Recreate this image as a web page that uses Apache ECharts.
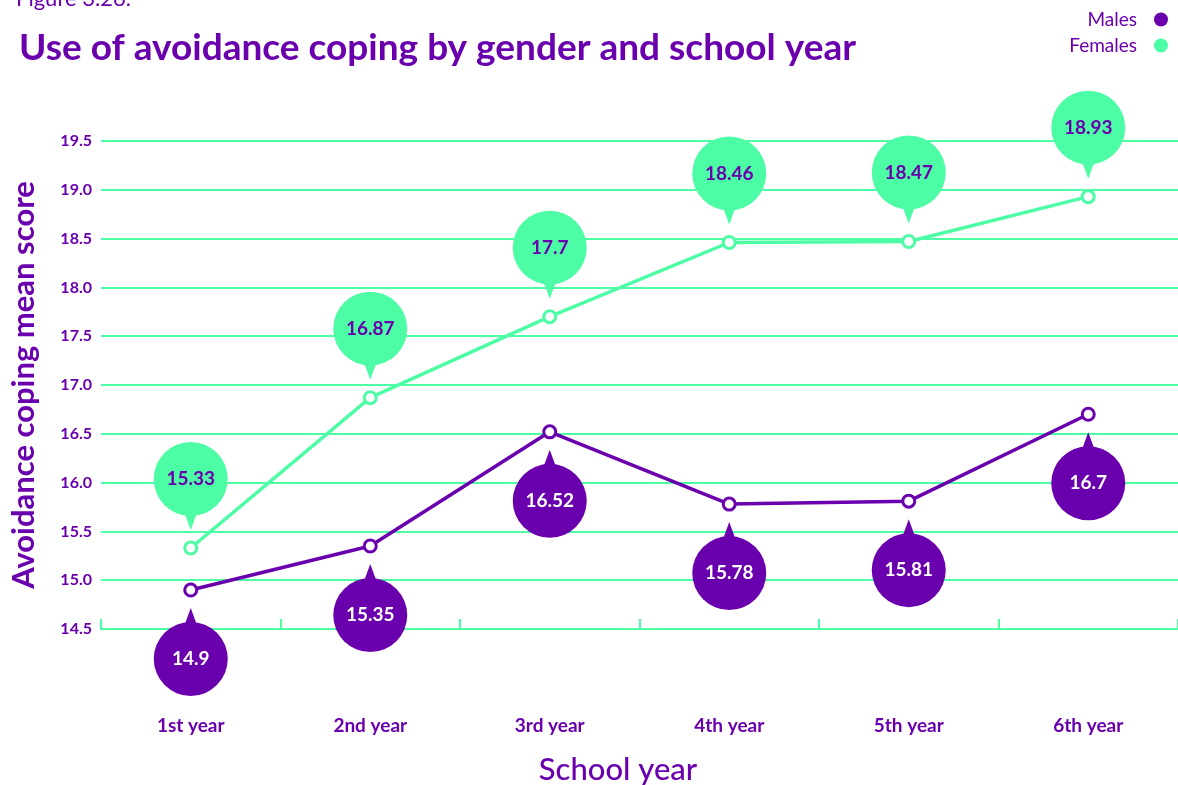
<!DOCTYPE html>
<html>
<head>
<meta charset="utf-8">
<script src="https://cdn.jsdelivr.net/npm/echarts@6/dist/echarts.min.js"></script>
<style>
  html, body { margin: 0; padding: 0; background: #fff; }
  #chart { width: 1178px; height: 785px; }
</style>
</head>
<body>
<div id="chart"></div>
<script>
// data
const years = ["1st year", "2nd year", "3rd year", "4th year", "5th year", "6th year"];
const males = [14.9, 15.35, 16.52, 15.78, 15.81, 16.7];
const females = [15.33, 16.87, 17.7, 18.46, 18.47, 18.93];

const purple = "#6a00ad";
const mint = "#4dfda6";
const font = "Lato, 'Noto Sans', sans-serif";

// bubble with a small pointer, above (dir=-1) or below (dir=1) the point
const bubble = (dir, fill, textColor) => (params, api) => {
  const p = api.coord([api.value(0), api.value(1)]);
  const cy = p[1] + dir * 69;
  const tip = p[1] + dir * 18;
  const base = p[1] + dir * 40;
  return {
    type: "group",
    children: [
      {
        type: "polygon",
        shape: { points: [[p[0] - 8, base], [p[0] + 8, base], [p[0], tip]] },
        style: { fill: fill },
      },
      {
        type: "circle",
        shape: { cx: p[0], cy: cy, r: 37 },
        style: { fill: fill },
      },
      {
        type: "text",
        style: {
          text: String(api.value(1)),
          x: p[0],
          y: cy,
          align: "center",
          verticalAlign: "middle",
          fill: textColor,
          font: "bold 19px " + font,
        },
      },
    ],
  };
};

const chart = echarts.init(document.getElementById("chart"));
const option = {
  animation: false,
  textStyle: { fontFamily: font },
  title: {
    text: "Use of avoidance coping by gender and school year",
    left: 14,
    top: 25,
    textStyle: { color: purple, fontSize: 37, fontWeight: "bold", fontFamily: font },
  },
  graphic: [
    {
      type: "text",
      left: 16,
      top: -12,
      style: { text: "Figure 3.26.", fill: purple, font: "22px " + font },
    },
    {
      type: "text",
      x: 618,
      y: 770,
      style: {
        text: "School year",
        fill: purple,
        font: "500 31px " + font,
        align: "center",
        verticalAlign: "middle",
      },
    },
  ],
  legend: {
    orient: "vertical",
    right: 5,
    top: 5,
    align: "right",
    itemGap: 7,
    itemWidth: 14,
    itemHeight: 14,
    icon: "circle",
    textStyle: { color: purple, fontSize: 19, fontFamily: font, padding: [0, 12, 0, 0] },
    data: [
      { name: "Males", itemStyle: { color: purple, borderWidth: 0 } },
      { name: "Females", itemStyle: { color: mint, borderWidth: 0 } },
    ],
  },
  grid: { left: 98, top: 141, width: 1086, height: 488 },
  xAxis: {
    type: "category",
    data: years,
    boundaryGap: true,
    z: 5,
    axisLine: { show: true, lineStyle: { color: mint, width: 2 } },
    axisTick: { show: true, inside: true, length: 10, lineStyle: { color: mint, width: 2 } },
    axisLabel: { color: purple, fontSize: 19, fontWeight: "bold", margin: 87, fontFamily: font },
  },
  yAxis: {
    type: "value",
    min: 14.5,
    max: 19.5,
    interval: 0.5,
    name: "Avoidance coping mean score",
    nameLocation: "middle",
    nameGap: 62,
    nameTextStyle: { color: purple, fontSize: 31, fontWeight: "bold", fontFamily: font },
    axisLine: { show: false },
    axisTick: { show: false },
    splitLine: { lineStyle: { color: mint, width: 2 } },
    axisLabel: {
      color: purple,
      fontSize: 16,
      fontWeight: "bold",
      margin: 9,
      fontFamily: font,
      formatter: (v) => v.toFixed(1),
    },
  },
  series: [
    {
      name: "Males",
      type: "line",
      data: males,
      symbol: "circle",
      symbolSize: 12,
      lineStyle: { color: purple, width: 3.5 },
      itemStyle: { color: "#fff", borderColor: purple, borderWidth: 3 },
      z: 3,
    },
    {
      name: "Females",
      type: "line",
      data: females,
      symbol: "circle",
      symbolSize: 12,
      lineStyle: { color: mint, width: 3.5 },
      itemStyle: { color: "#fff", borderColor: mint, borderWidth: 3 },
      z: 3,
    },
    {
      type: "custom",
      renderItem: bubble(1, purple, "#fff"),
      data: males.map((v, i) => [i, v]),
      encode: { x: 0, y: 1 },
      z: 6,
    },
    {
      type: "custom",
      renderItem: bubble(-1, mint, purple),
      data: females.map((v, i) => [i, v]),
      encode: { x: 0, y: 1 },
      z: 6,
    },
  ],
};
chart.setOption(option);
</script>
</body>
</html>
